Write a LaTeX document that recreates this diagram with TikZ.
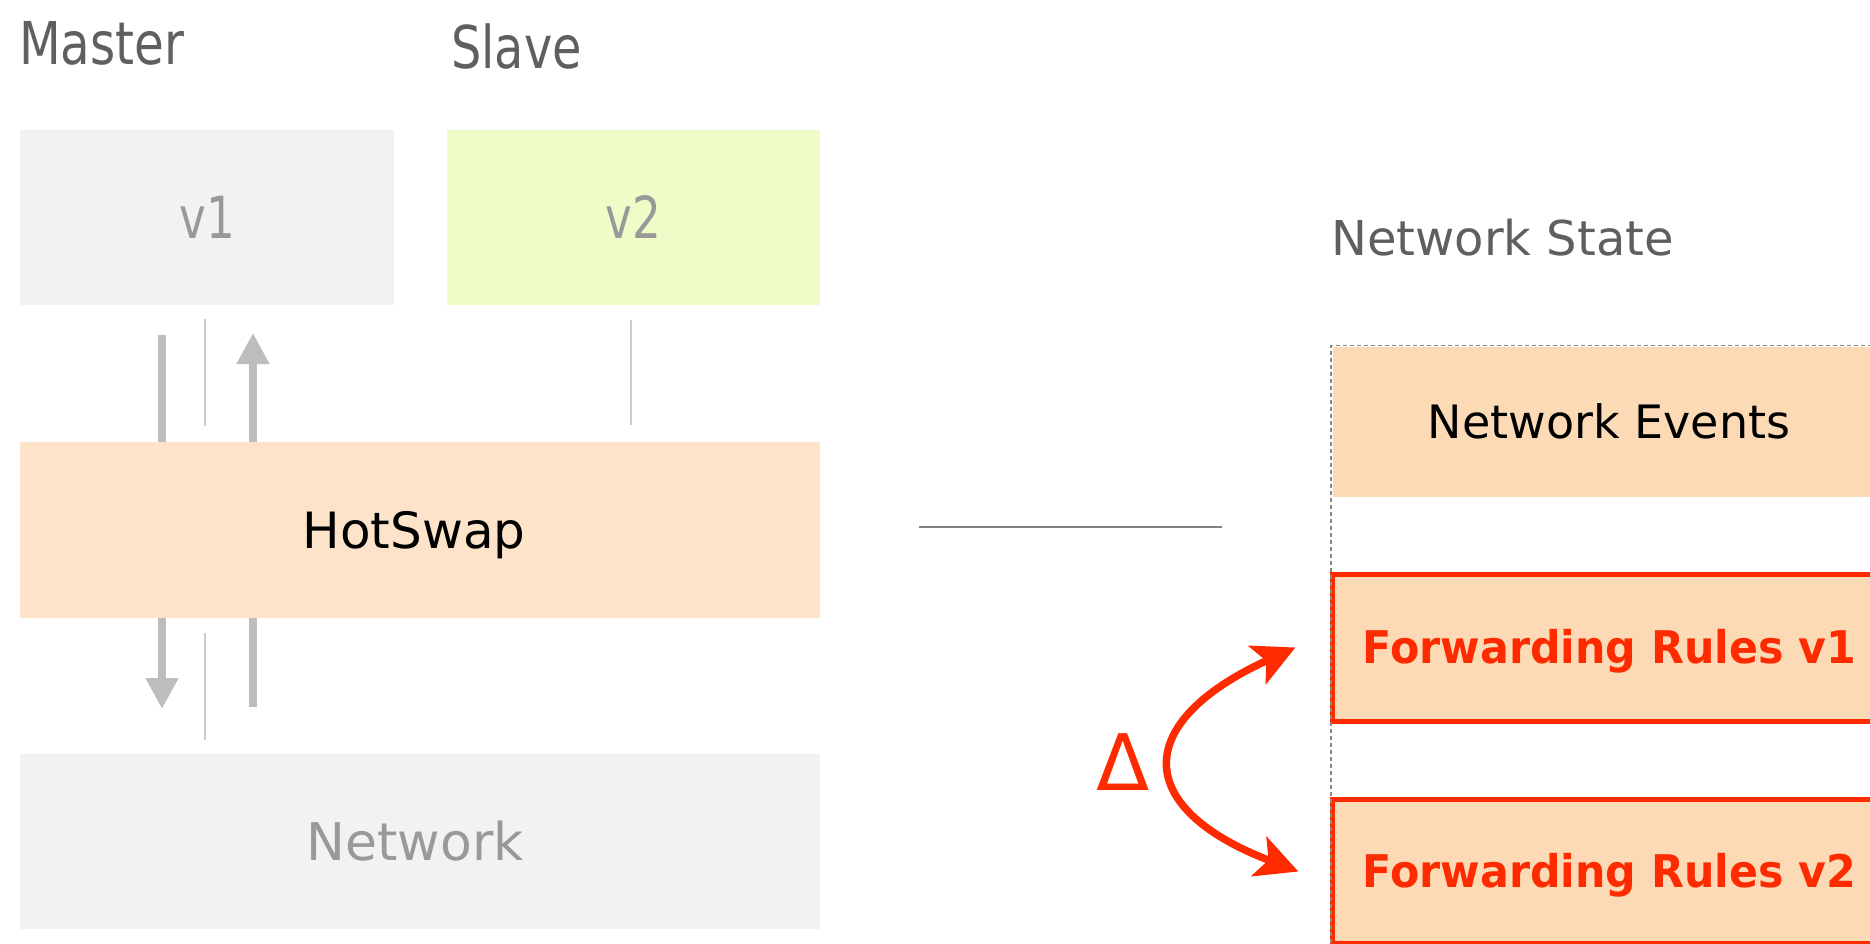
\documentclass[tikz,border=0pt]{standalone}
\usepackage{fontspec}
\setmainfont{DejaVu Sans}
\usetikzlibrary{arrows.meta}
\definecolor{boxgrey}{HTML}{F2F2F2}
\definecolor{boxgreen}{HTML}{EEFCC8}
\definecolor{hspeach}{HTML}{FDE3C9}
\definecolor{stpeach}{HTML}{FCDAB5}
\definecolor{hotred}{HTML}{FF2B00}
\definecolor{txtgrey}{HTML}{999999}
\definecolor{labgrey}{HTML}{5F5F5F}
\definecolor{arrgrey}{HTML}{BDBDBD}
\definecolor{thingrey}{HTML}{CCCCCC}
\definecolor{linegrey}{HTML}{808080}
\definecolor{dashgrey}{HTML}{888888}
\begin{document}
\begin{tikzpicture}[x=1pt,y=-1pt,
  blk/.style={rectangle, inner sep=0pt, outer sep=0pt, text depth=0pt},
  toplab/.style={anchor=base west, inner sep=0pt, text=labgrey, font=\fontsize{59}{70}\selectfont},
  thickg/.style={draw=arrgrey, line width=7.5pt},
  thickgarr/.style={thickg, -{Triangle[length=31pt, width=31pt]}},
  thing/.style={draw=thingrey, line width=2.8pt},
  frbox/.style={blk, draw=hotred, line width=5pt, fill=stpeach, text=hotred,
    font=\fontsize{45}{52}\selectfont\bfseries, text height=32.8pt,
    minimum width=554.25pt},
  redarr/.style={draw=hotred, line width=7.5pt,
    {Stealth[length=42pt, width=42pt, inset=10pt]}-{Stealth[length=42pt, width=42pt, inset=10pt]}}
]
\clip (0,0) rectangle (1870,944);

% top labels
\node[toplab] (master) at (19,65) {\scalebox{0.82}[1]{Master}};
\node[toplab] (slave) at (451,69) {\scalebox{0.81}[1]{Slave}};
\node[anchor=base west, inner sep=0pt, text=labgrey, font=\fontsize{48}{58}\selectfont] (nstate) at (1331,255) {Network State};

% left stack
\node[blk, fill=boxgrey, minimum width=374pt, minimum height=175pt, text=txtgrey,
  font=\fontsize{58}{68}\selectfont, text height=42pt] (v1) at (207,217.5) {\scalebox{0.78}[1]{v1}};
\node[blk, fill=boxgreen, minimum width=373pt, minimum height=175pt, text=txtgrey,
  font=\fontsize{58}{68}\selectfont, text height=42pt] (v2) at (633.5,217.5) {\scalebox{0.78}[1]{v2}};
\node[blk, fill=hspeach, minimum width=800pt, minimum height=176pt, text=black,
  font=\fontsize{50}{60}\selectfont, text height=36.5pt] (hs) at (420,530) {\hspace*{-12pt}HotSwap};
\node[blk, fill=boxgrey, minimum width=800pt, minimum height=175pt, text=txtgrey,
  font=\fontsize{52}{62}\selectfont, text height=37.9pt] (net) at (420,841.5) {\hspace*{-10pt}Network};

% arrows between v1 / hotswap / network
\coordinate (dTop) at (162,335);
\coordinate (dBot) at (162,709);
\coordinate (uTop) at (253,333);
\coordinate (uBot) at (253,707);
\draw[thickg] (dTop) -- (dTop |- hs.north);
\draw[thickgarr] (dBot |- hs.south) -- (dBot);
\draw[thickg] (uBot) -- (uBot |- hs.south);
\draw[thickgarr] (uTop |- hs.north) -- (uTop);

\coordinate (t1a) at (205,319);
\coordinate (t1b) at (205,426);
\coordinate (t2a) at (205,633);
\coordinate (t2b) at (205,740);
\coordinate (t3a) at (631,320);
\coordinate (t3b) at (631,425);
\draw[thing] (t1a) -- (t1b);
\draw[thing] (t2a) -- (t2b);
\draw[thing] (t3a) -- (t3b);

% separator line
\coordinate (h1) at (919,527);
\coordinate (h2) at (1222,527);
\draw[draw=linegrey, line width=2.5pt] (h1) -- (h2);

% network state
\node[blk, fill=stpeach, minimum width=552pt, minimum height=150pt, text=black,
  font=\fontsize{46}{55}\selectfont, text height=33.5pt] (ne) at (1609,422) {Network Events};
\node[frbox, minimum height=147pt] (fr1) at (1609.5,647.5) {\scalebox{0.95}[1]{Forwarding Rules v1}};
\node[frbox, minimum height=144pt] (fr2) at (1609.5,871.5) {\scalebox{0.95}[1]{Forwarding Rules v2}};

\node[blk, draw=dashgrey, line width=1.6pt, dash pattern=on 4pt off 3pt,
  minimum width=600pt, minimum height=650pt, anchor=north west] (state) at (1331,345.5) {};

% delta
\node[blk, text=hotred, font=\fontsize{78}{90}\selectfont, text height=57pt] (delta) at (1123,762) {Δ};
\coordinate (ta) at ([xshift=-37pt]fr1.west);
\coordinate (tb) at ([xshift=-34pt]fr2.west);
\draw[redarr] (ta) .. controls (1132,722) and (1132,808) .. (tb);
\end{tikzpicture}
\end{document}
